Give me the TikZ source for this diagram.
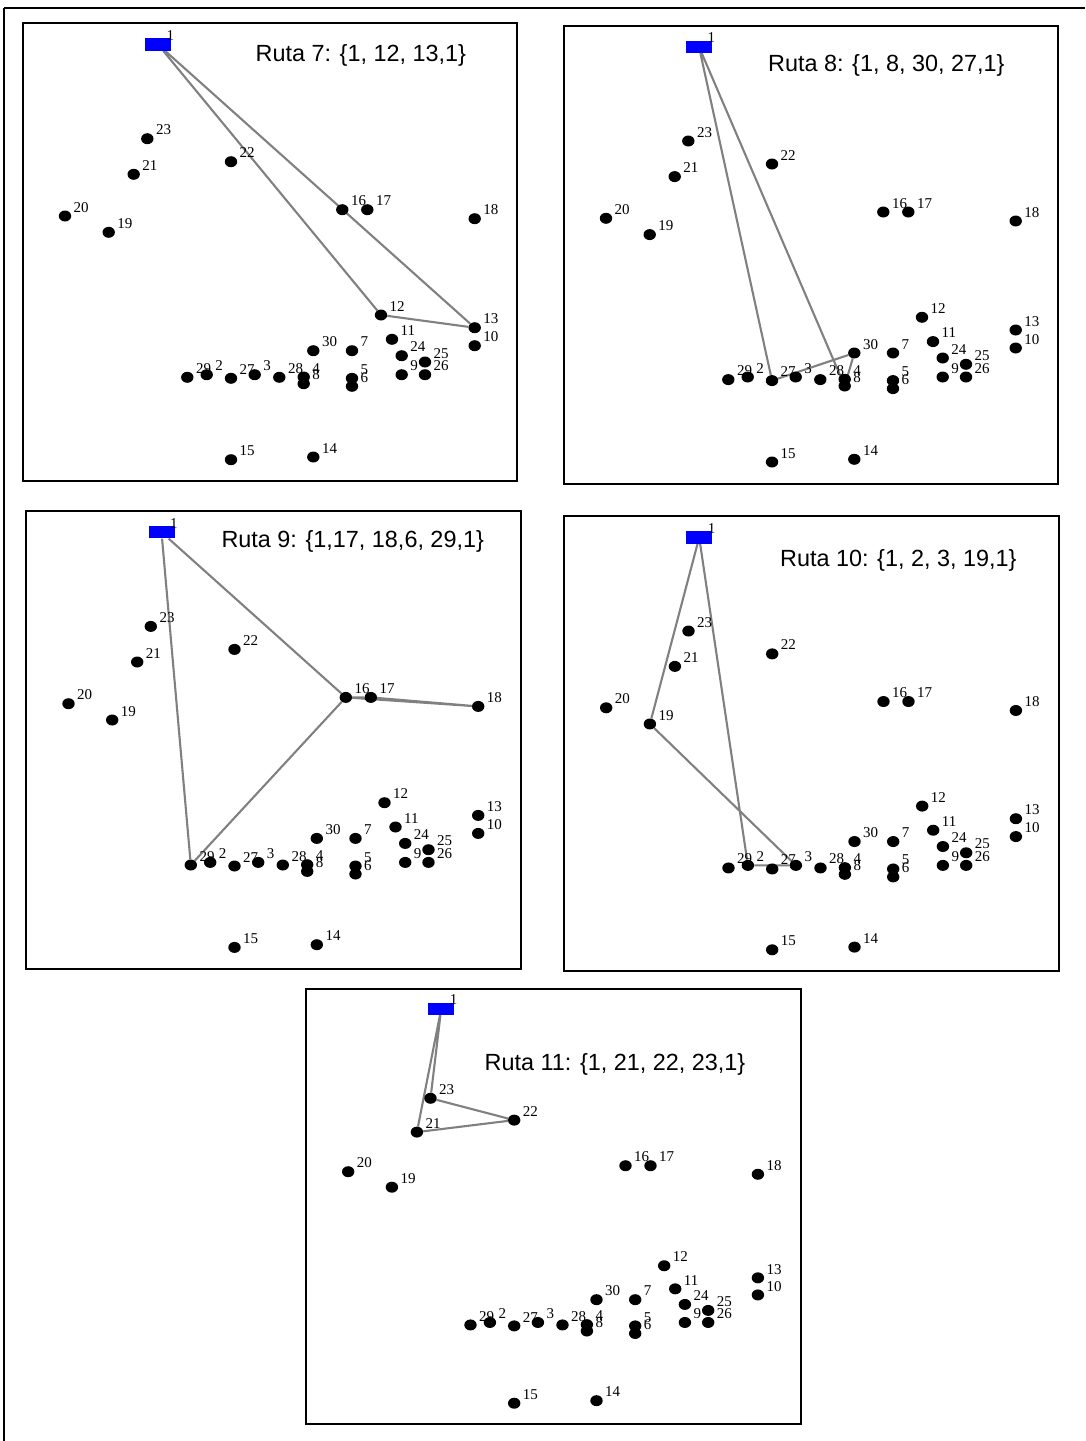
\documentclass[tikz,border=0pt]{standalone}
\usepackage{fontspec}
\setmainfont{Liberation Serif}
\newfontfamily\titlefont{Liberation Sans}
\usetikzlibrary{shapes.geometric, backgrounds}

%customers: number/x/y (positions of the first panel, in px)
\newcommand{\clientes}{2/206.7/374.7, 3/254.7/374.7, 4/303.7/377, 5/352/378.3, 6/352/386.3, 7/352/350.7, 8/303.7/383.7, 9/401.7/374.7, 10/474.7/345.7, 11/392/339.3, 12/381/315, 13/474.7/327.7, 14/313.3/457, 15/231/459.7, 16/342.3/209.7, 17/367.3/209.7, 18/474.7/218.7, 19/108.7/232.3, 20/65/216, 21/133.7/174.3, 22/231/161.7, 23/147.3/138.7, 24/401.7/355.7, 25/425/362, 26/425/374.7, 27/231/378.3, 28/279.3/377.3, 29/187.3/377.3, 30/313.3/350.7}

%one panel: #1 route, #2 #3 shift, #4 vertical scale
\newcommand{\panel}[4]{%
\begin{scope}[shift={(#2,#3)}, yscale=#4]
	\draw[marco] (22.5,23.3) rectangle (517.3,481.2);
	\node[depot] (r#1-1) at (158,44.5) {};
	\node[lbl] at (166.5,40.5) {1};
	\foreach \n/\x/\y in \clientes {
		\node[dot] (r#1-\n) at (\x,\y) {};
		\node[lbl] at (\x+8.5,\y-4) {\n};
	}
\end{scope}}

\begin{document}
\begin{tikzpicture}[x=1pt, y=-1pt]
%Declaration of styles
	\tikzstyle{dot} = [ellipse, fill=black, minimum width=12.4pt, minimum height=11pt, inner sep=0pt] %style for the customers
	\tikzstyle{depot} = [rectangle, fill={rgb,255:red,0;green,0;blue,255}, minimum width=26pt, minimum height=12.4pt, inner sep=0pt] %style for the depot
	\tikzstyle{lbl} = [anchor=base west, inner sep=0pt, font=\fontsize{15}{16}\selectfont] %style for the numbers
	\tikzstyle{titulo} = [anchor=base, inner sep=0pt, font=\titlefont\fontsize{23.4}{28}\selectfont] %style for the route names
	\tikzstyle{marco} = [draw=black, line width=2pt] %style for the frames
	\tikzstyle{ruta} = [draw={rgb,255:red,128;green,128;blue,128}, line width=2.1pt] %style for the routes
	\useasboundingbox (0,0) rectangle (1085,1441);
%Outer frame
	\draw[line width=2pt] (4,8.3) -- (1085,8.3);
	\draw[line width=1.2pt] (4,8.3) -- (4,1441);
%Panels
	\panel{7}{0}{0}{1}
	\panel{8}{541}{2.3}{1}
	\panel{9}{3.5}{487.7}{1}
	\panel{10}{541.2}{493.3}{0.993}
	\panel{11}{283.2}{966.5}{0.95}
%Route names
	\node[titulo] (t7) at (360.8,61.7) {Ruta 7: \{1, 12, 13,1\}};
	\node[titulo] (t8) at (886.3,71.7) {Ruta 8: \{1, 8, 30, 27,1\}};
	\node[titulo] (t9) at (352.7,547.7) {Ruta 9: \{1,17, 18,6, 29,1\}};
	\node[titulo] (t10) at (898.3,566.3) {Ruta 10: \{1, 2, 3, 19,1\}};
	\node[titulo] (t11) at (615,1070.3) {Ruta 11: \{1, 21, 22, 23,1\}};
%Routes, behind the customers
	\begin{pgfonlayer}{background}
	\draw[ruta] (r7-1) -- (r7-12) -- (r7-13) -- (r7-1);
	\draw[ruta] (r8-1) -- (r8-8) -- (r8-30) -- (r8-27) -- (r8-1);
	\draw[ruta] (r9-1) -- (r9-16) -- (r9-17) -- (r9-18) -- (r9-16) -- (r9-29) -- (r9-1);
	\draw[ruta] (r10-1) -- (r10-19) -- (r10-3) -- (r10-2) -- (r10-1);
	\draw[ruta] (r11-1) -- (r11-21) -- (r11-22) -- (r11-23) -- (r11-1);
	\end{pgfonlayer}
\end{tikzpicture}
\end{document}
